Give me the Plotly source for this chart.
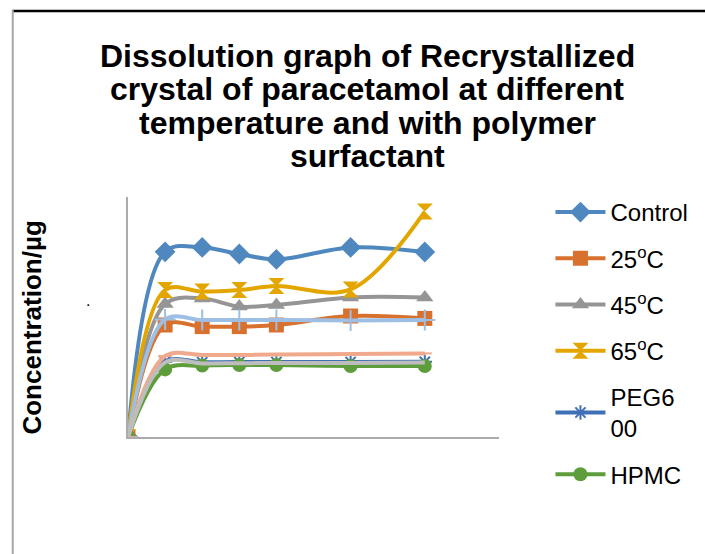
import plotly.graph_objects as go

# ---- data ----
time_min = [0, 5, 10, 15, 20, 30, 40]
control = [0, 92.6, 94.8, 91.5, 88.8, 94.8, 92.5]
temp25 = [0, 56.0, 55.2, 55.2, 56.0, 60.5, 59.3]
temp45 = [0, 66.5, 69.3, 65.2, 66.0, 69.8, 69.8]
temp65 = [0, 73.5, 72.7, 73.5, 75.5, 73.8, 112.7]
peg600 = [0, 37.6, 37.4, 37.5, 37.5, 37.5, 37.6]
hpmc = [0, 33.8, 35.7, 36.0, 36.0, 35.5, 35.5]
series7 = [0, 58.8, 58.5, 58.5, 58.5, 58.3, 58.5]
series8 = [0, 40.5, 41.0, 41.0, 41.2, 41.5, 41.8]
series9 = [0, 37.3, 36.8, 36.9, 37.0, 37.0, 37.2]

legend_names = ["Control", "25<sup>o</sup>C", "45<sup>o</sup>C", "65<sup>o</sup>C", "PEG6<br>00", "HPMC"]
title_lines = [
    "Dissolution graph of Recrystallized",
    "crystal of paracetamol at different",
    "temperature and with polymer",
    "surfactant",
]
y_title = "Concentration/µg"

FONT = "Arial, Liberation Sans, sans-serif"

series = [
    (control, legend_names[0], "#4F88BF", "diamond", 16, True),
    (temp25, legend_names[1], "#D9712E", "square", 15, True),
    (temp45, legend_names[2], "#959595", "triangle-up", 15, True),
    (temp65, legend_names[3], "#E3A600", "hourglass", 16, True),
    (peg600, legend_names[4], "#3F6FB5", "asterisk-open", 12, True),
    (hpmc, legend_names[5], "#5E9D3C", "circle", 14, True),
    (series7, "Series7", "#9DBFE3", "cross-thin-open", 15, False),
    (series8, "Series8", "#F0A98C", "line-ew-open", 10, False),
    (series9, "Series9", "#BDBDBD", None, 0, False),
]

fig = go.Figure()
for i, (vals, name, color, sym, size, show) in enumerate(series):
    marker = dict(color=color, size=size)
    if sym is not None:
        marker["symbol"] = sym
        if sym.endswith("open"):
            marker["line"] = dict(color=color, width=2)
    fig.add_trace(go.Scatter(
        x=time_min, y=vals, name=name,
        mode="lines+markers" if sym is not None else "lines",
        line=dict(color=color, width=4, shape="spline", smoothing=1),
        marker=marker,
        showlegend=show,
        legendgroup=f"g{i}",
    ))

# plot area: x 128..503 px, y 197..437 px
L, R, T, B = 128, 705 - 503, 197, 554 - 437
W, H = 705 - L - R, 554 - T - B


def px_x(px):
    return (px - L) / W


def px_y(py):
    return (554 - B - py) / H


annotations = []
for line, cy in zip(title_lines, [55.5, 89.5, 123, 156]):
    annotations.append(dict(
        text=f"<b>{line}</b>", x=px_x(370), y=px_y(cy), xref="paper", yref="paper",
        xanchor="center", yanchor="middle", showarrow=False,
        font=dict(family=FONT, size=32, color="black"),
    ))
annotations.append(dict(
    text=f"<b>{y_title}</b>", x=px_x(30), y=px_y(327.5), xref="paper", yref="paper",
    xanchor="center", yanchor="middle", showarrow=False, textangle=-90,
    font=dict(family=FONT, size=26, color="black"),
))
annotations.append(dict(
    text=".", x=px_x(88), y=px_y(300), xref="paper", yref="paper",
    xanchor="center", yanchor="middle", showarrow=False,
    font=dict(family=FONT, size=16, color="black"),
))

shapes = [
    dict(type="line", xref="paper", yref="paper", x0=px_x(11), x1=px_x(720),
         y0=px_y(11), y1=px_y(11), line=dict(color="black", width=2.5)),
    dict(type="line", xref="paper", yref="paper", x0=px_x(11.5), x1=px_x(11.5),
         y0=px_y(10), y1=px_y(560), line=dict(color="#A6A6A6", width=2)),
]

fig.update_layout(
    width=705, height=554,
    margin=dict(l=L, r=R, t=T, b=B, pad=0),
    paper_bgcolor="white", plot_bgcolor="white",
    showlegend=True,
    legend=dict(
        x=px_x(555), y=px_y(190), xanchor="left", yanchor="top",
        xref="paper", yref="paper",
        font=dict(family=FONT, size=24, color="black"),
        itemwidth=50, tracegroupgap=12, traceorder="grouped",
        maxheight=500,
        bgcolor="rgba(0,0,0,0)",
    ),
    xaxis=dict(range=[0, 50], showline=True, linecolor="#ABABAB", linewidth=1.5,
               showgrid=False, zeroline=False, showticklabels=False, ticks=""),
    yaxis=dict(range=[0, 120], showline=True, linecolor="#ABABAB", linewidth=1.5,
               showgrid=False, zeroline=False, showticklabels=False, ticks=""),
    annotations=annotations,
    shapes=shapes,
)

fig.write_html("out.html", config={"displayModeBar": False})
